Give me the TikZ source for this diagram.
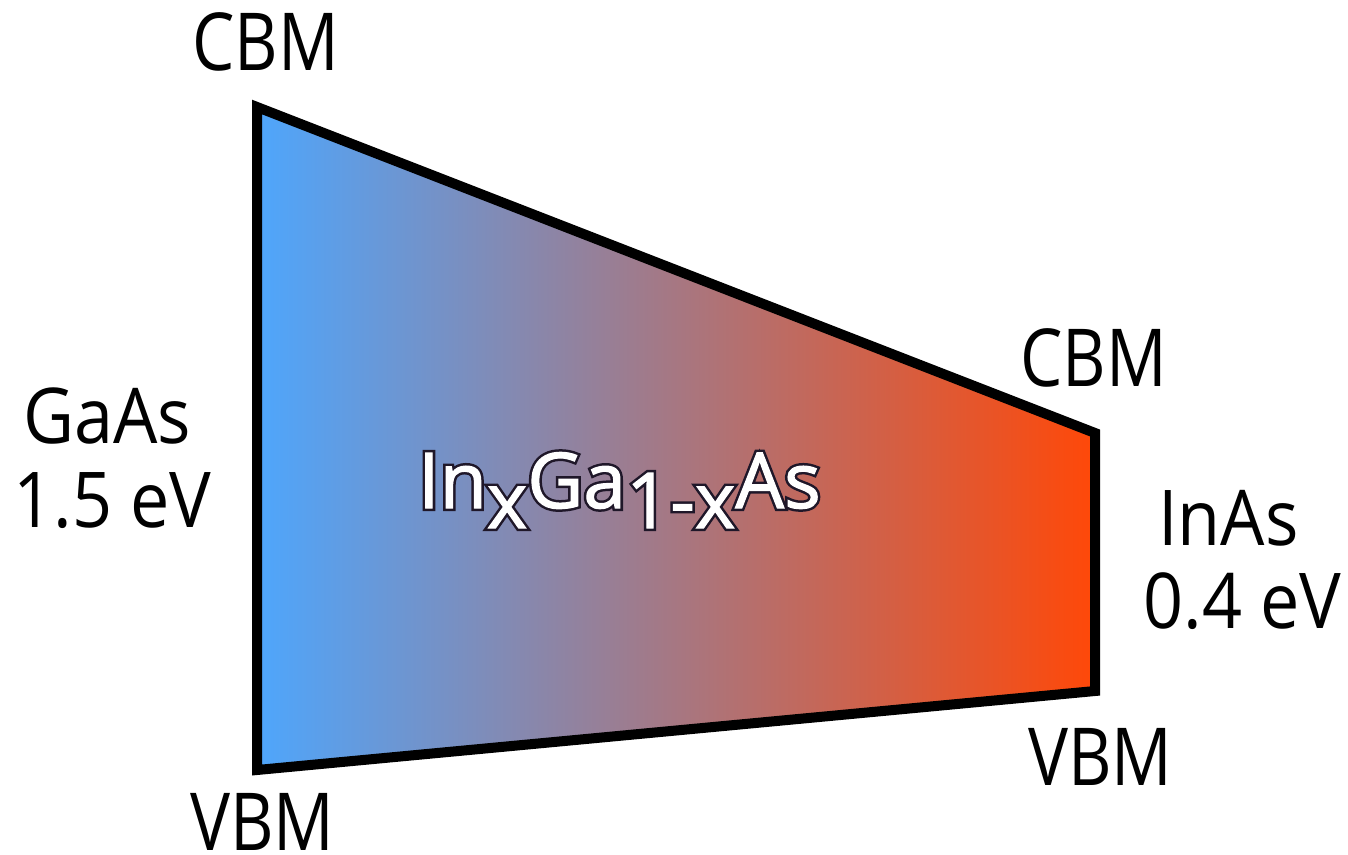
\documentclass[tikz,border=0pt]{standalone}
\usepackage{fontspec}
\setmainfont[FakeStretch=0.84]{Open Sans}
\newfontfamily\matfont[FakeStretch=0.91]{Open Sans}
\newfontfamily\alloyback[FakeBold=8]{Open Sans}
\newfontfamily\alloyfront[FakeBold=1.5]{Open Sans}
\definecolor{gaasblue}{RGB}{78,166,252}
\definecolor{inasred}{RGB}{255,72,8}
\newcommand{\lowered}[1]{\raisebox{-20pt}{#1}}
\newcommand{\alloytext}{In\lowered{x}Ga\lowered{1-x}As}
\newcommand{\outlined}[1]{%
  \rlap{\alloyback\fontsize{77}{80}\selectfont\special{pdf:bcolor [0.12 0.09 0.16] [0.12 0.09 0.16]}#1\special{pdf:ecolor}}%
  {\alloyfront\fontsize{77}{80}\selectfont\special{pdf:bcolor [1 1 1] [1 1 1]}#1\special{pdf:ecolor}}}
\begin{document}
\begin{tikzpicture}[x=1pt,y=-1pt,
  lab/.style={font=\fontsize{80}{84}\selectfont, anchor=base, inner sep=0pt},
  mat/.style={font=\matfont\fontsize{77}{84}\selectfont, anchor=base, inner sep=0pt},
  band/.style={line width=10pt, line join=miter, draw=black}]
\useasboundingbox (0,0) rectangle (1348,854);
\coordinate (tl) at (257,107);
\coordinate (tr) at (1095,433);
\coordinate (br) at (1095,691);
\coordinate (bl) at (257,770);
\shade[left color=gaasblue, right color=inasred] (tl) -- (tr) -- (br) -- (bl) -- cycle;
\draw[band] (tl) -- (tr) -- (br) -- (bl) -- cycle;
\node[lab] (cbmL) at (265.5,70) {CBM};
\node[lab] (vbmL) at (262.5,850) {VBM};
\node[lab] (cbmR) at (1093.5,386) {CBM};
\node[lab] (vbmR) at (1100.5,785) {VBM};
\node[mat] (gaas) at (107.5,443) {GaAs};
\node[mat] (gaasgap) at (112.5,527) {1.5 eV};
\node[mat] (inas) at (1228.5,545) {InAs};
\node[mat] (inasgap) at (1242.5,628) {0.4 eV};
\node[inner sep=0pt, anchor=base west] (alloy) at (418,508) {\outlined{\alloytext}};
\end{tikzpicture}
\end{document}
